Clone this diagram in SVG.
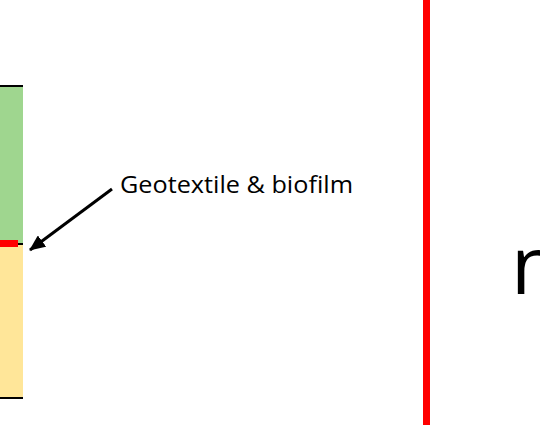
<svg xmlns="http://www.w3.org/2000/svg" width="540" height="425" viewBox="0 0 540 425">
  <defs>
    <style>
      .lbl { font-family: "Open Sans", "Liberation Sans", Arial, sans-serif; fill: #000; }
      .edge { stroke: #000; stroke-width: 2; }
    </style>
    <marker id="ah" markerWidth="16" markerHeight="14" refX="15" refY="7" orient="auto" markerUnits="userSpaceOnUse" viewBox="0 0 16 14">
      <path d="M0,0 L16,7 L0,14 Z" fill="#000"/>
    </marker>
  </defs>
  <rect width="540" height="425" fill="#fff"/>
  <g id="layers">
    <rect x="0" y="86" width="23" height="158" fill="#9FD68F"/>
    <rect x="0" y="244" width="23" height="153" fill="#FFE699"/>
    <line class="edge" x1="0" y1="86" x2="23" y2="86"/>
    <line class="edge" x1="0" y1="244" x2="23" y2="244"/>
    <line class="edge" x1="0" y1="398" x2="23" y2="398"/>
    <rect x="0" y="240" width="18" height="7" fill="#FF0000"/>
  </g>
  <g id="wall">
    <rect x="423" y="0" width="7" height="425" fill="#FF0000"/>
  </g>
  <g id="label-geotextile">
    <text class="lbl" x="120" y="193" font-size="24" textLength="233" lengthAdjust="spacingAndGlyphs">Geotextile &amp; biofilm</text>
  </g>
  <g id="label-right">
    <text class="lbl" x="511" y="294" font-size="80">n</text>
  </g>
  <g id="connectors">
    <line x1="112" y1="189" x2="30" y2="250" stroke="#000" stroke-width="3" marker-end="url(#ah)"/>
  </g>
</svg>
